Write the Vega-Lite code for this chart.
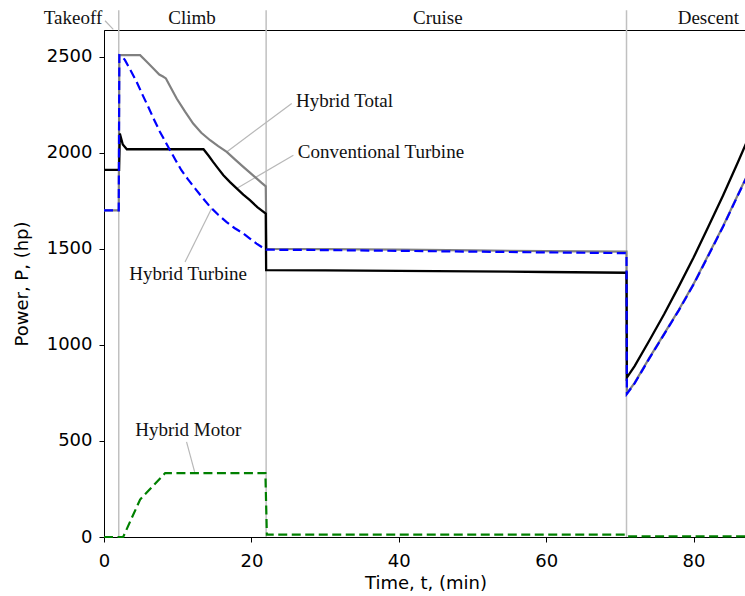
{
  "$schema": "https://vega.github.io/schema/vega-lite/v6.json",
  "autosize": "none",
  "width": 643,
  "height": 507,
  "padding": {"left": 104, "top": 30, "right": 0, "bottom": 59},
  "background": "white",
  "config": {
    "view": {"stroke": "black", "strokeWidth": 1},
    "axis": {
      "labelFont": "DejaVu Sans", "labelFontSize": 18, "labelColor": "black",
      "titleFont": "DejaVu Sans", "titleFontSize": 18, "titleColor": "black", "titleFontWeight": "normal",
      "domainColor": "black", "domainWidth": 1, "tickColor": "black", "tickSize": 5, "tickWidth": 1,
      "grid": false, "labelPadding": 7, "labelFlush": false, "format": "d"
    }
  },
  "datasets": {
    "series": [
      {"s": "total", "t": 0, "P": 1701}, {"s": "total", "t": 2.0, "P": 1701}, {"s": "total", "t": 2.08, "P": 2509},
      {"s": "total", "t": 4.9, "P": 2509}, {"s": "total", "t": 5.8, "P": 2475}, {"s": "total", "t": 6.7, "P": 2440},
      {"s": "total", "t": 7.5, "P": 2408}, {"s": "total", "t": 8.0, "P": 2398}, {"s": "total", "t": 8.4, "P": 2388},
      {"s": "total", "t": 9.0, "P": 2345}, {"s": "total", "t": 9.86, "P": 2283}, {"s": "total", "t": 11.0, "P": 2215},
      {"s": "total", "t": 12.1, "P": 2153}, {"s": "total", "t": 13.2, "P": 2105}, {"s": "total", "t": 14.4, "P": 2066},
      {"s": "total", "t": 15.5, "P": 2035}, {"s": "total", "t": 16.65, "P": 2005}, {"s": "total", "t": 17.8, "P": 1965},
      {"s": "total", "t": 18.9, "P": 1927}, {"s": "total", "t": 19.8, "P": 1897}, {"s": "total", "t": 20.7, "P": 1867},
      {"s": "total", "t": 21.35, "P": 1845}, {"s": "total", "t": 21.95, "P": 1826}, {"s": "total", "t": 22.05, "P": 1500},
      {"s": "total", "t": 30, "P": 1499}, {"s": "total", "t": 40, "P": 1496}, {"s": "total", "t": 50, "P": 1492},
      {"s": "total", "t": 60, "P": 1489}, {"s": "total", "t": 70.9, "P": 1486}, {"s": "total", "t": 70.95, "P": 748},
      {"s": "total", "t": 72, "P": 803}, {"s": "total", "t": 74, "P": 933}, {"s": "total", "t": 76, "P": 1058},
      {"s": "total", "t": 78, "P": 1183}, {"s": "total", "t": 80, "P": 1318}, {"s": "total", "t": 82, "P": 1468},
      {"s": "total", "t": 84, "P": 1618}, {"s": "total", "t": 86, "P": 1781}, {"s": "total", "t": 87.25, "P": 1881},

      {"s": "conv", "t": 0, "P": 1912}, {"s": "conv", "t": 2.05, "P": 1912}, {"s": "conv", "t": 2.15, "P": 2101},
      {"s": "conv", "t": 2.55, "P": 2044}, {"s": "conv", "t": 3.1, "P": 2019}, {"s": "conv", "t": 13.5, "P": 2019},
      {"s": "conv", "t": 14.2, "P": 1985}, {"s": "conv", "t": 14.8, "P": 1953}, {"s": "conv", "t": 15.5, "P": 1918},
      {"s": "conv", "t": 16.2, "P": 1884}, {"s": "conv", "t": 17.1, "P": 1848}, {"s": "conv", "t": 18.0, "P": 1815},
      {"s": "conv", "t": 18.9, "P": 1783}, {"s": "conv", "t": 19.8, "P": 1754}, {"s": "conv", "t": 20.8, "P": 1718},
      {"s": "conv", "t": 21.95, "P": 1684}, {"s": "conv", "t": 22.0, "P": 1390}, {"s": "conv", "t": 30, "P": 1388},
      {"s": "conv", "t": 40, "P": 1386}, {"s": "conv", "t": 50, "P": 1383}, {"s": "conv", "t": 60, "P": 1380},
      {"s": "conv", "t": 70.9, "P": 1376}, {"s": "conv", "t": 70.95, "P": 830}, {"s": "conv", "t": 72, "P": 890},
      {"s": "conv", "t": 74, "P": 1023}, {"s": "conv", "t": 76, "P": 1160}, {"s": "conv", "t": 78, "P": 1305},
      {"s": "conv", "t": 80, "P": 1455}, {"s": "conv", "t": 82, "P": 1615}, {"s": "conv", "t": 84, "P": 1778},
      {"s": "conv", "t": 86, "P": 1950}, {"s": "conv", "t": 87.25, "P": 2060},

      {"s": "turb", "t": 0, "P": 1701}, {"s": "turb", "t": 2.0, "P": 1701}, {"s": "turb", "t": 2.08, "P": 2509},
      {"s": "turb", "t": 2.4, "P": 2505}, {"s": "turb", "t": 2.85, "P": 2483}, {"s": "turb", "t": 3.6, "P": 2430},
      {"s": "turb", "t": 4.43, "P": 2370}, {"s": "turb", "t": 5.2, "P": 2305}, {"s": "turb", "t": 6.0, "P": 2240},
      {"s": "turb", "t": 6.8, "P": 2173}, {"s": "turb", "t": 7.6, "P": 2109}, {"s": "turb", "t": 8.3, "P": 2060},
      {"s": "turb", "t": 8.96, "P": 2014}, {"s": "turb", "t": 9.7, "P": 1963}, {"s": "turb", "t": 10.5, "P": 1910},
      {"s": "turb", "t": 11.4, "P": 1862}, {"s": "turb", "t": 12.35, "P": 1815}, {"s": "turb", "t": 13.4, "P": 1765},
      {"s": "turb", "t": 14.4, "P": 1719}, {"s": "turb", "t": 15.5, "P": 1678}, {"s": "turb", "t": 16.6, "P": 1641},
      {"s": "turb", "t": 17.7, "P": 1609}, {"s": "turb", "t": 18.9, "P": 1580}, {"s": "turb", "t": 19.8, "P": 1554},
      {"s": "turb", "t": 20.7, "P": 1528}, {"s": "turb", "t": 21.4, "P": 1510}, {"s": "turb", "t": 22.0, "P": 1496},
      {"s": "turb", "t": 30, "P": 1494}, {"s": "turb", "t": 40, "P": 1490}, {"s": "turb", "t": 50, "P": 1486},
      {"s": "turb", "t": 60, "P": 1482}, {"s": "turb", "t": 70.9, "P": 1478}, {"s": "turb", "t": 70.95, "P": 745},
      {"s": "turb", "t": 72, "P": 800}, {"s": "turb", "t": 74, "P": 930}, {"s": "turb", "t": 76, "P": 1055},
      {"s": "turb", "t": 78, "P": 1180}, {"s": "turb", "t": 80, "P": 1315}, {"s": "turb", "t": 82, "P": 1465},
      {"s": "turb", "t": 84, "P": 1615}, {"s": "turb", "t": 86, "P": 1778}, {"s": "turb", "t": 87.25, "P": 1878},

      {"s": "motor", "t": 0, "P": 0}, {"s": "motor", "t": 2.6, "P": 0}, {"s": "motor", "t": 4.9, "P": 195},
      {"s": "motor", "t": 8.3, "P": 333}, {"s": "motor", "t": 21.9, "P": 333}, {"s": "motor", "t": 22.1, "P": 12},
      {"s": "motor", "t": 70.9, "P": 12}, {"s": "motor", "t": 71.0, "P": 3}, {"s": "motor", "t": 87.25, "P": 3}
    ],
    "phases": [{"t": 2}, {"t": 22}, {"t": 70.9}],
    "phaseLabels": [
      {"label": "Takeoff", "t": -4.2, "P": 2704},
      {"label": "Climb", "t": 11.94, "P": 2704},
      {"label": "Cruise", "t": 45.3, "P": 2704},
      {"label": "Descent", "t": 82.0, "P": 2704}
    ],
    "notes": [
      {"label": "Hybrid Total", "t": 26.05, "P": 2269, "align": "left"},
      {"label": "Conventional Turbine", "t": 26.3, "P": 2004, "align": "left"},
      {"label": "Hybrid Turbine", "t": 11.4, "P": 1372, "align": "center"},
      {"label": "Hybrid Motor", "t": 11.44, "P": 559, "align": "center"}
    ],
    "leaders": [
      {"t1": 0.14, "P1": 2688, "t2": 1.26, "P2": 2643},
      {"t1": 25.47, "P1": 2257, "t2": 16.64, "P2": 2005},
      {"t1": 25.7, "P1": 1988, "t2": 18.0, "P2": 1815},
      {"t1": 14.6, "P1": 1710, "t2": 11.0, "P2": 1432},
      {"t1": 11.2, "P1": 495, "t2": 12.3, "P2": 339}
    ]
  },
  "layer": [
    {
      "data": {"name": "phases"},
      "mark": {"type": "rule", "color": "#c0c0c0", "strokeWidth": 1.5, "clip": false},
      "encoding": {
        "x": {"field": "t", "type": "quantitative", "scale": {"domain": [0, 87.25], "nice": false, "zero": false},
              "axis": {"values": [0, 20, 40, 60, 80], "title": "Time, t, (min)", "titlePadding": 4, "labelPadding": 10}},
        "y": {"datum": 0, "type": "quantitative", "scale": {"domain": [0, 2640], "nice": false},
              "axis": {"values": [0, 500, 1000, 1500, 2000, 2500], "title": "Power, P, (hp)", "titlePadding": 15}},
        "y2": {"datum": 2743}
      }
    },
    {
      "data": {"name": "leaders"},
      "mark": {"type": "rule", "color": "#b8b8b8", "strokeWidth": 1.2, "clip": false},
      "encoding": {
        "x": {"field": "t1", "type": "quantitative"},
        "y": {"field": "P1", "type": "quantitative"},
        "x2": {"field": "t2"},
        "y2": {"field": "P2"}
      }
    },
    {
      "data": {"name": "series"},
      "transform": [{"filter": "datum.s === 'total'"}],
      "mark": {"type": "line", "color": "#808080", "strokeWidth": 2.2, "strokeJoin": "miter"},
      "encoding": {"x": {"field": "t", "type": "quantitative"}, "y": {"field": "P", "type": "quantitative"}}
    },
    {
      "data": {"name": "series"},
      "transform": [{"filter": "datum.s === 'conv'"}],
      "mark": {"type": "line", "color": "black", "strokeWidth": 2.3},
      "encoding": {"x": {"field": "t", "type": "quantitative"}, "y": {"field": "P", "type": "quantitative"}}
    },
    {
      "data": {"name": "series"},
      "transform": [{"filter": "datum.s === 'turb'"}],
      "mark": {"type": "line", "color": "#0000ff", "strokeWidth": 2.2, "strokeDash": [9, 4.5]},
      "encoding": {"x": {"field": "t", "type": "quantitative"}, "y": {"field": "P", "type": "quantitative"}}
    },
    {
      "data": {"name": "series"},
      "transform": [{"filter": "datum.s === 'motor'"}],
      "mark": {"type": "line", "color": "#008000", "strokeWidth": 2.2, "strokeDash": [9, 4.5], "clip": false},
      "encoding": {"x": {"field": "t", "type": "quantitative"}, "y": {"field": "P", "type": "quantitative"}}
    },
    {
      "data": {"name": "phaseLabels"},
      "mark": {"type": "text", "font": "Liberation Serif", "fontSize": 19, "color": "#111", "baseline": "middle", "align": "center", "clip": false},
      "encoding": {
        "x": {"field": "t", "type": "quantitative"},
        "y": {"field": "P", "type": "quantitative"},
        "text": {"field": "label"}
      }
    },
    {
      "data": {"name": "notes"},
      "transform": [{"filter": "datum.align === 'left'"}],
      "mark": {"type": "text", "font": "Liberation Serif", "fontSize": 19, "color": "#111", "baseline": "middle", "align": "left"},
      "encoding": {
        "x": {"field": "t", "type": "quantitative"},
        "y": {"field": "P", "type": "quantitative"},
        "text": {"field": "label"}
      }
    },
    {
      "data": {"name": "notes"},
      "transform": [{"filter": "datum.align === 'center'"}],
      "mark": {"type": "text", "font": "Liberation Serif", "fontSize": 19, "color": "#111", "baseline": "middle", "align": "center"},
      "encoding": {
        "x": {"field": "t", "type": "quantitative"},
        "y": {"field": "P", "type": "quantitative"},
        "text": {"field": "label"}
      }
    }
  ]
}
